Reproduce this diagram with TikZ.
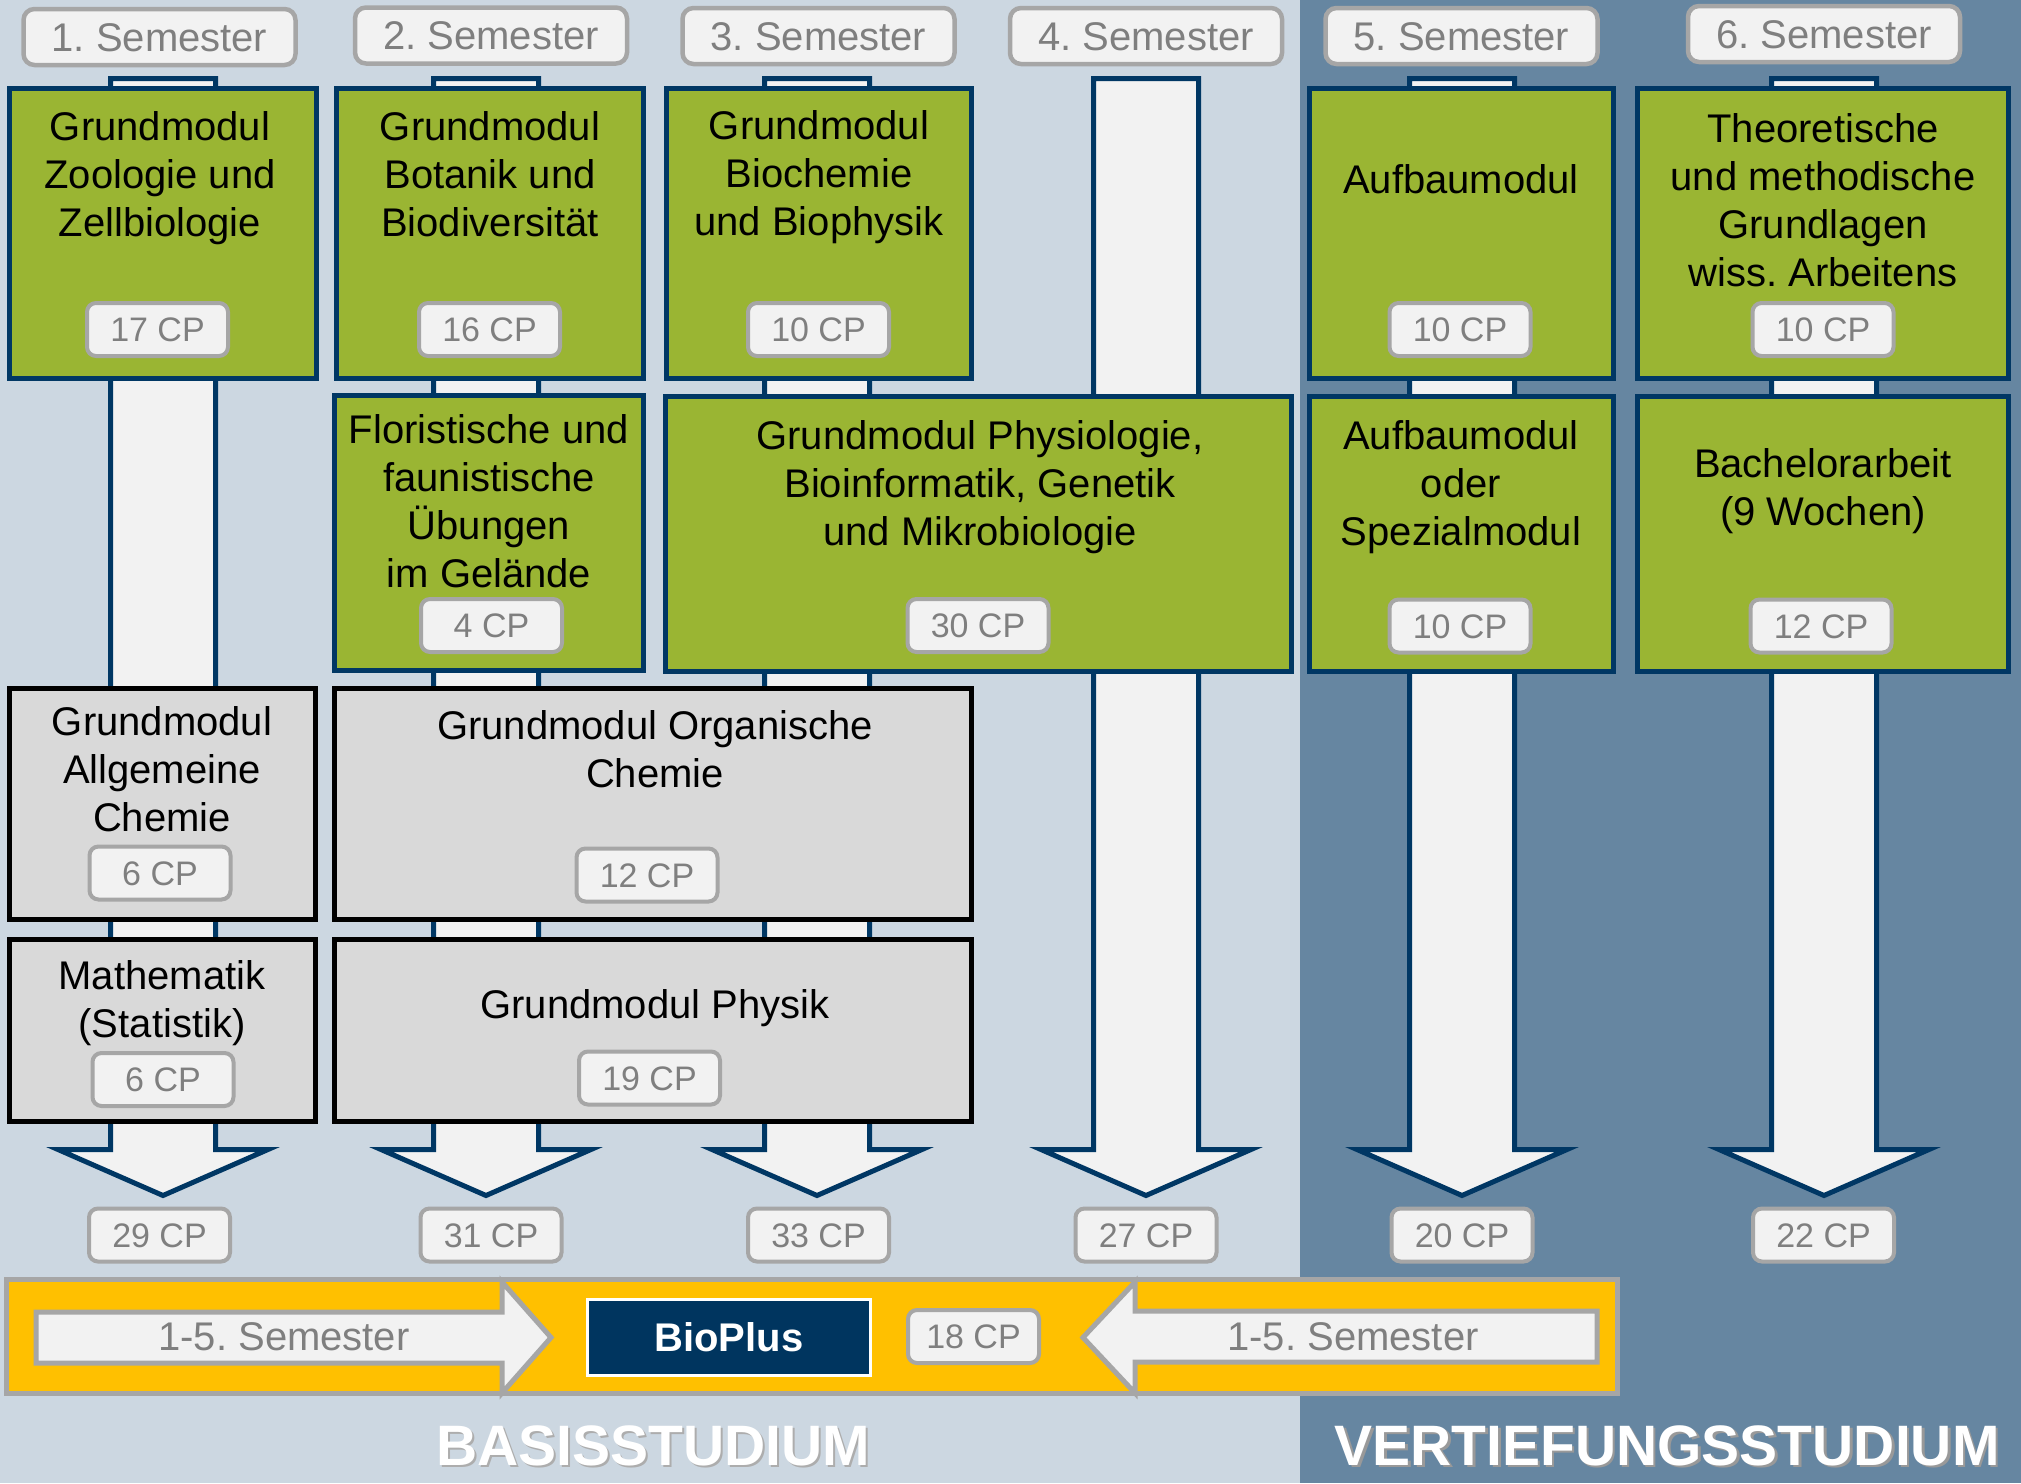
\documentclass[tikz,border=0pt]{standalone}
\usepackage{fontspec}
\setmainfont{Liberation Sans}
\definecolor{bglight}{HTML}{CCD7E1}
\definecolor{bgdark}{HTML}{6686A1}
\definecolor{boxgreen}{HTML}{9AB533}
\definecolor{navy}{HTML}{003764}
\definecolor{boxgray}{HTML}{D9D9D9}
\definecolor{pillfill}{HTML}{F2F2F2}
\definecolor{pillborder}{HTML}{A6A6A6}
\definecolor{pilltext}{HTML}{7F7F7F}
\definecolor{bandyellow}{HTML}{FFC000}
\definecolor{bioblue}{HTML}{00355F}
\newcommand\firststrut{\rule{0pt}{32pt}}
\begin{document}
\frenchspacing
\begin{tikzpicture}[x=1pt,y=-1pt,
  colarrow/.style={draw=navy, fill=pillfill, line width=5pt, line join=miter},
  bandarrow/.style={draw=pillborder, fill=pillfill, line width=5pt, line join=miter},
  greenbox/.style={draw=navy, fill=boxgreen, line width=5pt, inner sep=0pt},
  graybox/.style={draw=black, fill=boxgray, line width=5pt, inner sep=0pt},
  modtxt/.style={anchor=north, align=center, inner sep=0pt, font=\fontsize{40}{48}\selectfont},
  pill/.style={draw=pillborder, fill=pillfill, line width=4pt, rounded corners=9pt,
    minimum width=141pt, minimum height=53pt, inner sep=0pt, text=pilltext,
    font=\fontsize{34}{40}\selectfont, text height=24.3pt, text depth=0pt},
  semlabel/.style={draw=pillborder, fill=pillfill, line width=4.5pt, rounded corners=11pt,
    minimum width=272pt, minimum height=56pt, inner sep=0pt, text=pilltext,
    font=\fontsize{40}{48}\selectfont, text height=28.6pt, text depth=0pt},
  bandtxt/.style={inner sep=0pt, text=pilltext, font=\fontsize{40}{48}\selectfont,
    text height=28.6pt, text depth=0pt},
  bigtxt/.style={inner sep=0pt, font=\fontsize{57}{60}\selectfont\bfseries,
    text height=40.8pt, text depth=0pt}
]
\useasboundingbox (0,0) rectangle (2021,1483);
\fill[bglight] (0,0) rectangle (1300,1483);
\fill[bgdark] (1300,0) rectangle (2021,1483);

% column arrows
\foreach \c in {163,486,817,1146,1462,1824} {
  \draw[colarrow] (\c-52.5,78.5) -- (\c+52.5,78.5) -- (\c+52.5,1149.5) -- (\c+105,1149.5)
    -- (\c,1195.5) -- (\c-105,1149.5) -- (\c-52.5,1149.5) -- cycle;
}

% semester labels
\node[semlabel] (s1) at (159.5,37) {1. Semester};
\node[semlabel] (s2) at (491,35.5) {2. Semester};
\node[semlabel] (s3) at (818.5,36) {3. Semester};
\node[semlabel] (s4) at (1146,36) {4. Semester};
\node[semlabel] (s5) at (1461.5,36) {5. Semester};
\node[semlabel] (s6) at (1824,34) {6. Semester};

% row 1
\node[greenbox, minimum width=307pt, minimum height=290pt] (g1) at (163,233.5) {};
\node[greenbox, minimum width=307pt, minimum height=290pt] (g2) at (490,233.5) {};
\node[greenbox, minimum width=305pt, minimum height=290pt] (g3) at (819,233.5) {};
\node[greenbox, minimum width=304pt, minimum height=290pt] (g5) at (1461.5,233.5) {};
\node[greenbox, minimum width=371pt, minimum height=290pt] (g6) at (1823,233.5) {};
\node[modtxt] (t1) at (160,108) {\firststrut Grundmodul\\Zoologie und\\Zellbiologie};
\node[modtxt] (t2) at (490,108) {\firststrut Grundmodul\\Botanik und\\Biodiversität};
\node[modtxt] (t3) at (819,107) {\firststrut Grundmodul\\Biochemie\\und Biophysik};
\node[modtxt] (t5) at (1461,161) {\firststrut Aufbaumodul};
\node[modtxt] (t6) at (1823,110) {\firststrut Theoretische\\und methodische\\Grundlagen\\wiss. Arbeitens};
\node[pill] (c17) at (157.5,329.5) {17 CP};
\node[pill] (c16) at (489.5,329.5) {16 CP};
\node[pill] (c10a) at (818.5,329.5) {10 CP};
\node[pill] (c10b) at (1460,329.5) {10 CP};
\node[pill] (c10c) at (1823,329.5) {10 CP};

% row 2
\node[greenbox, minimum width=309pt, minimum height=275pt] (f2) at (489,533) {};
\node[greenbox, minimum width=626pt, minimum height=275pt] (p34) at (978.5,534) {};
\node[greenbox, minimum width=304pt, minimum height=275pt] (a5) at (1461.5,534) {};
\node[greenbox, minimum width=371pt, minimum height=275pt] (b6) at (1823,534) {};
\node[modtxt] (tf) at (489,411) {\firststrut Floristische und\\faunistische\\Übungen\\im Gelände};
\node[modtxt] (tp) at (980,417) {\firststrut Grundmodul Physiologie,\\Bioinformatik, Genetik\\und Mikrobiologie};
\node[modtxt] (ta) at (1461,417) {\firststrut Aufbaumodul\\oder\\Spezialmodul};
\node[modtxt] (tb) at (1823,445) {\firststrut Bachelorarbeit\\(9 Wochen)};
\node[pill] (c4) at (491.5,625.5) {4 CP};
\node[pill] (c30) at (978,625.5) {30 CP};
\node[pill] (c10d) at (1460,626) {10 CP};
\node[pill] (c12b) at (1821,626) {12 CP};

% row 3
\node[graybox, minimum width=306pt, minimum height=231pt] (ac) at (162.5,804) {};
\node[graybox, minimum width=637pt, minimum height=231pt] (oc) at (653,804) {};
\node[modtxt] (tac) at (162,703) {\firststrut Grundmodul\\Allgemeine\\Chemie};
\node[modtxt] (toc) at (655,707) {\firststrut Grundmodul Organische\\Chemie};
\node[pill] (c6a) at (160,873) {6 CP};
\node[pill] (c12) at (647,875) {12 CP};

% row 4
\node[graybox, minimum width=306pt, minimum height=182pt] (m1) at (162.5,1030.5) {};
\node[graybox, minimum width=637pt, minimum height=182pt] (ph) at (653,1030.5) {};
\node[modtxt] (tm) at (162,957) {\firststrut Mathematik\\(Statistik)};
\node[modtxt] (tph) at (655,986) {\firststrut Grundmodul Physik};
\node[pill] (c6b) at (163,1079.5) {6 CP};
\node[pill] (c19) at (649.5,1078) {19 CP};

% totals
\node[pill] (c29) at (159.5,1235) {29 CP};
\node[pill] (c31) at (491,1235) {31 CP};
\node[pill] (c33) at (818.5,1235) {33 CP};
\node[pill] (c27) at (1146,1235) {27 CP};
\node[pill] (c20) at (1462,1235) {20 CP};
\node[pill] (c22) at (1823.5,1235) {22 CP};

% BioPlus band
\draw[draw=pillborder, fill=bandyellow, line width=5pt] (6.5,1279.5) rectangle (1617.5,1393.5);
\draw[bandarrow] (36,1312) -- (502,1312) -- (502,1282) -- (551,1337.5) -- (502,1393)
  -- (502,1363) -- (36,1363) -- cycle;
\draw[bandarrow] (1597,1311) -- (1135,1311) -- (1135,1282) -- (1083,1337.5) -- (1135,1393)
  -- (1135,1362) -- (1597,1362) -- cycle;
\node[bandtxt] (l15) at (284,1336) {1-5. Semester};
\node[bandtxt] (r15) at (1353,1336) {1-5. Semester};
\node[draw=white, fill=bioblue, line width=3pt, minimum width=283pt, minimum height=76pt,
  inner sep=0pt, text=white, font=\fontsize{40}{48}\selectfont\bfseries,
  text height=28.6pt, text depth=0pt] (bio) at (729,1337.5) {BioPlus};
\node[pill, minimum width=131pt] (c18) at (973.5,1336.5) {18 CP};

% titles
\node[bigtxt, text=black!32] (basisS) at (655.5,1447.5) {BASISSTUDIUM};
\node[bigtxt, text=white] (basis) at (653,1445) {BASISSTUDIUM};
\node[bigtxt, text=black!40] (vertS) at (1669.5,1447.5) {VERTIEFUNGSSTUDIUM};
\node[bigtxt, text=white] (vert) at (1667,1445) {VERTIEFUNGSSTUDIUM};
\end{tikzpicture}
\end{document}
